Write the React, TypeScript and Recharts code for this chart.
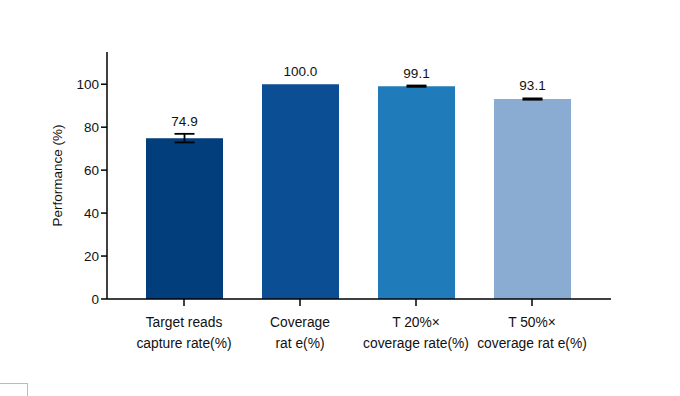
import React from "react";
import { BarChart, Bar, XAxis, YAxis, Cell, ErrorBar, LabelList } from "recharts";

const categories = ["Target reads|capture rate(%)", "Coverage|rat e(%)", "T 20%\u00d7|coverage rate(%)", "T 50%\u00d7|coverage rat e(%)"];
const values = [74.9, 100.0, 99.1, 93.1];
const errors = [2.0, 0, 0.3, 0.3];
const labels = ["74.9", "100.0", "99.1", "93.1"];
const colors = ["#023d7c", "#0c4e93", "#1f7bb9", "#8aacd3"];
const yTicks = [0, 20, 40, 60, 80, 100];

const data = categories.map((c, i) => ({ name: c, value: values[i], err: errors[i], label: labels[i] }));

const FONT = "'Liberation Sans', Arial, sans-serif";

const XTick = (props: any) => {
  const { x, y, payload } = props;
  const lines = String(payload.value).split("|");
  return (
    <g transform={`translate(${x},${y})`}>
      {lines.map((l: string, i: number) => (
        <text key={i} x={0} y={19 + i * 21} textAnchor="middle" fontSize={13.8} fill="#111" fontFamily={FONT}>
          {l}
        </text>
      ))}
    </g>
  );
};

const ValueLabel = (props: any) => {
  const { x, y, width, height, index } = props;
  const v = values[index];
  const pxPerUnit = height / v;
  const top = y - errors[index] * pxPerUnit;
  return (
    <text x={x + width / 2} y={top - 8} textAnchor="middle" fontSize={13.5} fill="#111" fontFamily={FONT}>
      {labels[index]}
    </text>
  );
};

export default function App() {
  return (
    <div style={{ position: "absolute", left: 0, top: 0, width: 680, height: 396, background: "#fff" }}>
      <BarChart width={680} height={396} data={data} margin={{ top: 52, right: 69, bottom: 37, left: 47 }}>
        <XAxis
          dataKey="name"
          tick={<XTick />}
          tickLine={{ stroke: "#000", strokeWidth: 1.5 }}
          tickSize={7}
          axisLine={{ stroke: "#000", strokeWidth: 1.5 }}
          interval={0}
          padding={{ left: 19, right: 21 }}
          height={60}
        />
        <YAxis
          domain={[0, 115]}
          ticks={yTicks}
          allowDataOverflow
          width={60}
          tickSize={6}
          tickLine={{ stroke: "#000", strokeWidth: 1.5 }}
          axisLine={{ stroke: "#000", strokeWidth: 1.5 }}
          tick={{ fontSize: 13.5, fill: "#111", fontFamily: FONT }}
          label={{ value: "Performance (%)", angle: -90, position: "insideLeft", offset: 10, style: { fontSize: 13.5, fill: "#111", fontFamily: FONT, textAnchor: "middle" } }}
        />
        <Bar dataKey="value" barSize={77} isAnimationActive={false}>
          {data.map((d, i) => (
            <Cell key={i} fill={colors[i]} />
          ))}
          <ErrorBar dataKey="err" width={10} stroke="#000" strokeWidth={1.8} direction="y" />
          <LabelList dataKey="value" content={<ValueLabel />} />
        </Bar>
      </BarChart>
      <div style={{ position: "absolute", left: 0, top: 383, width: 27, height: 13, borderTop: "1px solid #bbb", borderRight: "1px solid #bbb" }} />
    </div>
  );
}
